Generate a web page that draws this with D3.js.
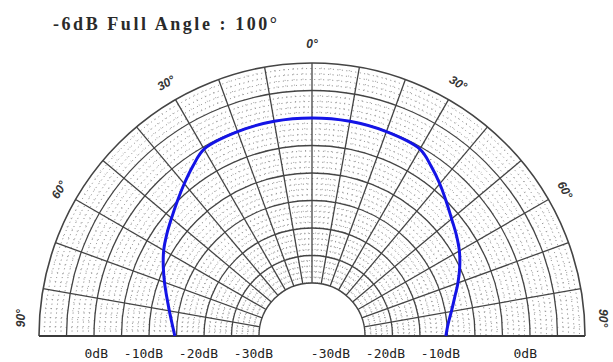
<!DOCTYPE html>
<html>
<head>
<meta charset="utf-8">
<script src="https://cdn.jsdelivr.net/npm/d3@7"></script>
<style>
  html, body { margin: 0; padding: 0; background: #fff; }
  svg { display: block; }
</style>
</head>
<body>
<svg id="chart" width="613" height="362"></svg>
<script>
// Beam pattern: relative level (dB) versus angle from the axis (degrees)
const angles = [-90, -85, -80, -75, -70, -65, -60, -55, -50, -45, -40, -35, -30, -20, -10, 0,
                10, 20, 30, 35, 40, 45, 50, 55, 60, 65, 70, 75, 80, 85, 90];
const levels = [-24.7, -24.1, -23.3, -22.3, -21.1, -19.8, -18.5, -17.4, -16.3, -15.0, -13.5, -11.9, -10.4, -10.1, -10.0, -10.0,
                -10.0, -10.1, -10.4, -11.9, -13.5, -15.1, -16.5, -17.6, -18.7, -20.0, -21.4, -22.8, -23.9, -24.8, -25.3];

// Grid definition
const dbRings = [0, -5, -10, -15, -20, -25, -30, -35, -40];
const spokeAngles = d3.range(-90, 91, 10);
const angleTicks = [-90, -60, -30, 0, 30, 60, 90];
const angleTickLabels = ["90°", "60°", "30°", "0°", "30°", "60°", "90°"];
const dbTicks = [0, -10, -20, -30];
const dbTickLabels = ["0dB", "-10dB", "-20dB", "-30dB"];
const title = "-6dB Full Angle : 100°";

const W = 613, H = 362;
const cx = 312, cy = 336;
const rOuter = 273, rInner = 53;

const r = d3.scaleLinear().domain([-40, 0]).range([rInner, rOuter]);
const rad = d => d * Math.PI / 180;

const svg = d3.select("#chart");
const g = svg.append("g").attr("transform", `translate(${cx},${cy})`);

function halfArc(radius) {
  const p = d3.path();
  p.moveTo(-radius, 0);
  p.arc(0, 0, radius, Math.PI, 2 * Math.PI);
  return p.toString();
}

// Fine dotted sub-grid (1 dB rings)
const minorDb = d3.range(-39, 0).filter(d => d % 5 !== 0);
g.append("g").selectAll("path").data(minorDb).join("path")
  .attr("d", d => halfArc(r(d)))
  .attr("fill", "none")
  .attr("stroke", "#7a7a7a")
  .attr("stroke-width", 1)
  .attr("stroke-dasharray", "1 3.5");

// Fine dotted sub-spokes (2 degrees)
const minorSpokes = d3.range(-88, 89, 2).filter(a => a % 10 !== 0);
g.append("g").selectAll("line").data(minorSpokes).join("line")
  .attr("x1", a => r(-40) * Math.sin(rad(a)))
  .attr("y1", a => -r(-40) * Math.cos(rad(a)))
  .attr("x2", a => r(0) * Math.sin(rad(a)))
  .attr("y2", a => -r(0) * Math.cos(rad(a)))
  .attr("stroke", "#8a8a8a")
  .attr("stroke-width", 0.8)
  .attr("stroke-dasharray", "1 4.5");

// Major rings
g.append("g").selectAll("path").data(dbRings).join("path")
  .attr("d", d => halfArc(r(d)))
  .attr("fill", "none")
  .attr("stroke", "#444")
  .attr("stroke-width", d => d === 0 ? 1.6 : 1.3);

// Major spokes
g.append("g").selectAll("line").data(spokeAngles).join("line")
  .attr("x1", a => r(-40) * Math.sin(rad(a)))
  .attr("y1", a => -r(-40) * Math.cos(rad(a)))
  .attr("x2", a => r(0) * Math.sin(rad(a)))
  .attr("y2", a => -r(0) * Math.cos(rad(a)))
  .attr("stroke", "#444")
  .attr("stroke-width", 1.3);

// Base line
g.append("line")
  .attr("x1", -r(0)).attr("x2", r(0))
  .attr("y1", 0).attr("y2", 0)
  .attr("stroke", "#3a3a3a")
  .attr("stroke-width", 1.8);

// Beam pattern curve
const pattern = d3.lineRadial()
  .angle((d, i) => rad(angles[i]))
  .radius(d => r(d))
  .curve(d3.curveCatmullRom.alpha(0.5));

g.append("path")
  .datum(levels)
  .attr("d", pattern)
  .attr("fill", "none")
  .attr("stroke", "#1414e6")
  .attr("stroke-width", 3);

// Angle labels around the rim
const rLabel = rOuter + 19;
g.append("g").selectAll("text").data(angleTicks).join("text")
  .attr("transform", a => {
    const aa = Math.abs(a) === 90 ? Math.sign(a) * 86.5 : a;
    const x = rLabel * Math.sin(rad(aa));
    const y = -rLabel * Math.cos(rad(aa));
    return `translate(${x},${y}) rotate(${a})`;
  })
  .attr("text-anchor", "middle")
  .attr("dominant-baseline", "central")
  .attr("font-family", "'Liberation Sans', Arial, sans-serif")
  .attr("font-style", "italic")
  .attr("font-weight", "bold")
  .attr("font-size", 12)
  .attr("fill", "#333")
  .text((a, i) => angleTickLabels[i]);

// dB labels under the base line
const dbFont = "'DejaVu Sans Mono', monospace";
g.append("g").selectAll("text").data(dbTicks).join("text")
  .attr("x", d => -(r(d) - 69))
  .attr("y", 22)
  .attr("text-anchor", "end")
  .attr("font-family", dbFont)
  .attr("font-size", 13)
  .attr("fill", "#222")
  .text((d, i) => dbTickLabels[i]);

g.append("g").selectAll("text").data(dbTicks).join("text")
  .attr("x", d => r(d) - 70 + (d === 0 ? 22 : 0))
  .attr("y", 22)
  .attr("text-anchor", "end")
  .attr("font-family", dbFont)
  .attr("font-size", 13)
  .attr("fill", "#222")
  .text((d, i) => dbTickLabels[i]);

// Title
svg.append("text")
  .attr("x", 53)
  .attr("y", 30)
  .attr("font-family", "'Liberation Serif', 'DejaVu Serif', serif")
  .attr("font-size", 18)
  .attr("font-weight", "bold")
  .attr("fill", "#2a2a2a")
  .attr("textLength", 224)
  .attr("lengthAdjust", "spacing")
  .text(title);
</script>
</body>
</html>
